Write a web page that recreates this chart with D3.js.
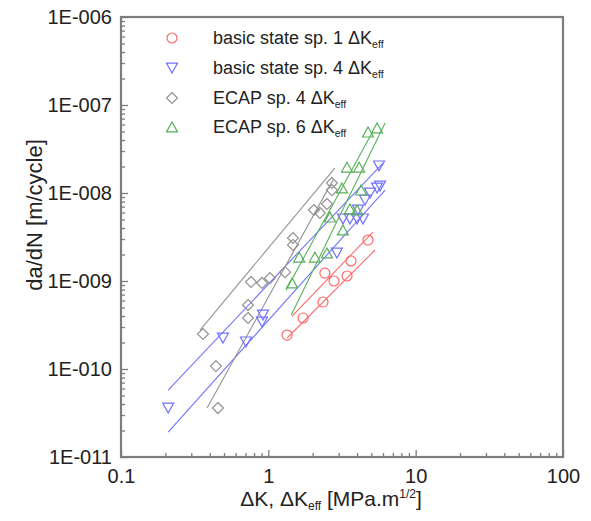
<!DOCTYPE html>
<html><head><meta charset="utf-8">
<script src="https://cdn.jsdelivr.net/npm/d3@7"></script>
<style>
html,body{margin:0;padding:0;background:#fff;}
svg text{font-family:"Liberation Sans",Arial,sans-serif;fill:#222;}
</style></head>
<body><div id="chart"></div>
<script>
// ---- data ----
const xTickLabels = ["0.1","1","10","100"];
const yTickLabels = ["1E-006","1E-007","1E-008","1E-009","1E-010","1E-011"];
const seriesNames = ["basic state sp. 1", "basic state sp. 4", "ECAP sp. 4", "ECAP sp. 6"];

const basic1X = [1.34, 1.72, 2.35, 2.42, 2.79, 3.42, 3.64, 4.75];
const basic1Y = [2.43e-10, 3.8e-10, 5.77e-10, 1.23e-9, 1.0e-9, 1.14e-9, 1.69e-9, 2.92e-9];

const basic4X = [0.209, 0.492, 0.705, 0.906, 0.92, 2.92, 3.21, 3.58, 4.0, 4.39, 4.06, 4.53, 4.9, 5.47, 5.73, 5.64];
const basic4Y = [3.6e-11, 2.25e-10, 2.03e-10, 3.42e-10, 4.11e-10, 2.08e-9, 5.07e-9, 5.07e-9, 5.07e-9, 5.07e-9, 6.41e-9, 8.32e-9, 1.0e-8, 1.14e-8, 1.2e-8, 2.03e-8];

const ecap4X = [0.36, 0.441, 0.455, 0.728, 0.728, 0.763, 0.906, 1.026, 1.30, 1.47, 1.47, 2.04, 2.24, 2.50, 2.70, 2.70];
const ecap4Y = [2.5e-10, 1.08e-10, 3.6e-11, 5.33e-10, 3.8e-10, 9.75e-10, 9.5e-10, 1.08e-9, 1.26e-9, 2.57e-9, 3.08e-9, 6.41e-9, 5.93e-9, 7.5e-9, 1.08e-8, 1.3e-8];

const ecap6X = [1.45, 1.62, 2.07, 2.50, 2.62, 3.21, 3.16, 3.58, 4.0, 3.42, 4.13, 4.26, 4.75, 5.47];
const ecap6Y = [9.5e-10, 1.87e-9, 1.87e-9, 2.08e-9, 5.33e-9, 3.8e-9, 1.14e-8, 6.58e-9, 6.4e-9, 1.97e-8, 1.97e-8, 1.08e-8, 4.93e-8, 5.48e-8];

// fitted lines: [start, end] as [x, y]
const basic1FitA = [[1.45, 4.0e-10], [5.13, 3.6e-9]];
const basic1FitB = [[1.34, 2.25e-10], [5.3, 2.25e-9]];
const basic4FitA = [[0.209, 5.77e-11], [6.0, 2.19e-8]];
const basic4FitB = [[0.209, 1.92e-11], [6.2, 1.08e-8]];
const ecap4FitA = [[0.344, 2.77e-10], [2.83, 1.92e-8]];
const ecap4FitB = [[0.384, 3.6e-11], [2.75, 1.41e-8]];
const ecap6FitA = [[1.43, 4.1e-10], [6.2, 6.24e-8]];
const ecap6FitB = [[1.32, 7.9e-10], [5.05, 4.8e-8]];

// ---- layout ----
const W = 591, H = 521;
const L = 121, R = 563, T = 17, B = 457;
const colors = {red:"#ff6b6b", blue:"#7272ff", gray:"#939393", green:"#58b058"};

const svg = d3.select("#chart").append("svg").attr("width", W).attr("height", H);
const x = d3.scaleLog().domain([0.1, 100]).range([L, R]);
const y = d3.scaleLog().domain([1e-11, 1e-6]).range([B, T]);

// ticks
const minorX = [], minorY = [];
[0.1, 1, 10].forEach(d => { for (let k = 2; k <= 9; k++) minorX.push(d * k); });
[1e-11, 1e-10, 1e-9, 1e-8, 1e-7].forEach(d => { for (let k = 2; k <= 9; k++) minorY.push(d * k); });
const majorX = [0.1, 1, 10, 100], majorY = [1e-6, 1e-7, 1e-8, 1e-9, 1e-10, 1e-11];

const axisColor = "#7d7d7d";
const gx = svg.append("g").attr("transform", `translate(0,${B})`)
  .call(d3.axisBottom(x).tickValues(majorX).tickSize(-7).tickFormat((d, i) => xTickLabels[i]).tickPadding(12));
const gxm = svg.append("g").attr("transform", `translate(0,${B})`)
  .call(d3.axisBottom(x).tickValues(minorX).tickSize(-4).tickFormat(""));
const gy = svg.append("g").attr("transform", `translate(${L},0)`)
  .call(d3.axisLeft(y).tickValues(majorY).tickSize(-7).tickFormat((d, i) => yTickLabels[i]).tickPadding(9));
const gym = svg.append("g").attr("transform", `translate(${L},0)`)
  .call(d3.axisLeft(y).tickValues(minorY).tickSize(-4).tickFormat(""));
[gx, gxm, gy, gym].forEach(g => {
  g.select(".domain").remove();
  g.selectAll(".tick line").attr("stroke", axisColor).attr("stroke-width", 1.3);
  g.selectAll(".tick text").style("font-size", "20px").attr("fill", "#222");
});

// frame
svg.append("rect").attr("x", L).attr("y", T).attr("width", R - L).attr("height", B - T)
  .attr("fill", "none").attr("stroke", axisColor).attr("stroke-width", 2.2);

// fit lines
const line = d3.line().x(d => x(d[0])).y(d => y(d[1]));
const fits = [
  [basic1FitA, colors.red], [basic1FitB, colors.red],
  [basic4FitA, colors.blue], [basic4FitB, colors.blue],
  [ecap4FitA, colors.gray], [ecap4FitB, colors.gray],
  [ecap6FitA, colors.green], [ecap6FitB, colors.green]
];
fits.forEach(([pts, c]) => {
  svg.append("path").attr("d", line(pts)).attr("fill", "none").attr("stroke", c).attr("stroke-width", 1.1);
});

// markers
function tri(size, down) {
  const h = size * 0.9, w = size;
  return down ? `M${-w/2},${-h/2}L${w/2},${-h/2}L0,${h/2}Z` : `M${-w/2},${h/2}L${w/2},${h/2}L0,${-h/2}Z`;
}
const shapes = {
  circle: () => "M5,0A5,5 0 1,1 -5,0A5,5 0 1,1 5,0Z",
  down: () => tri(11, true),
  diamond: () => "M0,-5.5L5.5,0L0,5.5L-5.5,0Z",
  up: () => tri(11, false)
};
const series = [
  {xs: basic1X, ys: basic1Y, shape: "circle", color: colors.red},
  {xs: basic4X, ys: basic4Y, shape: "down", color: colors.blue},
  {xs: ecap4X, ys: ecap4Y, shape: "diamond", color: colors.gray},
  {xs: ecap6X, ys: ecap6Y, shape: "up", color: colors.green}
];
series.forEach(s => {
  svg.append("g").selectAll("path").data(s.xs.map((v, i) => [v, s.ys[i]])).join("path")
    .attr("transform", d => `translate(${x(d[0])},${y(d[1])})`)
    .attr("d", shapes[s.shape]()).attr("fill", "none").attr("stroke", s.color).attr("stroke-width", 1.2);
});

// legend
const legY = [38, 68, 98, 127];
series.forEach((s, i) => {
  svg.append("path").attr("transform", `translate(172,${legY[i]})`).attr("d", shapes[s.shape]())
    .attr("fill", "none").attr("stroke", s.color).attr("stroke-width", 1.2);
  const t = svg.append("text").attr("x", 213).attr("y", legY[i] + 6).style("font-size", "18px");
  t.append("tspan").text(seriesNames[i] + " \u0394K");
  t.append("tspan").text("eff").attr("dy", 4).style("font-size", "10.5px");
});

// axis titles
const xt = svg.append("text").attr("x", 331).attr("y", 506).attr("text-anchor", "middle").style("font-size", "21px");
xt.append("tspan").text("\u0394K, \u0394K");
xt.append("tspan").text("eff").attr("dy", 4).style("font-size", "12px");
xt.append("tspan").text(" [MPa.m").attr("dy", -4);
xt.append("tspan").text("1/2").attr("dy", -8).style("font-size", "12px");
xt.append("tspan").text("]").attr("dy", 8);

svg.append("text").attr("transform", "translate(42,215) rotate(-90)").attr("text-anchor", "middle")
  .style("font-size", "22px").text("da/dN [m/cycle]");
</script>
</body></html>
